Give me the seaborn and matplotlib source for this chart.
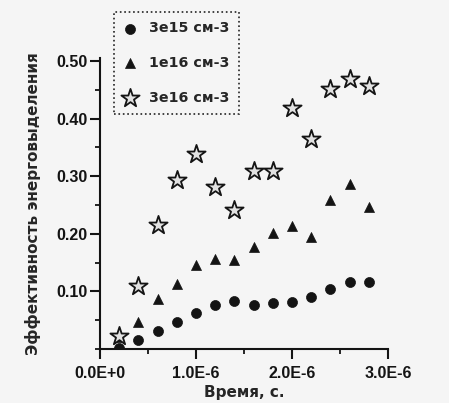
import matplotlib
matplotlib.use("Agg")
import matplotlib.pyplot as plt
import seaborn as sns
import pandas as pd
import numpy as np
from matplotlib.ticker import FixedLocator, MultipleLocator

# ---- data ----
time_us = [0.2, 0.4, 0.6, 0.8, 1.0, 1.2, 1.4, 1.6, 1.8, 2.0, 2.2, 2.4, 2.6, 2.8]
eff_3e15 = [0.002, 0.016, 0.032, 0.046, 0.062, 0.077, 0.083, 0.076, 0.080, 0.081, 0.091, 0.105, 0.116, 0.117]
eff_1e16 = [0.020, 0.047, 0.086, 0.112, 0.146, 0.156, 0.154, 0.177, 0.201, 0.213, 0.194, 0.258, 0.286, 0.247]
eff_3e16 = [0.023, 0.109, 0.215, 0.294, 0.339, 0.281, 0.241, 0.309, 0.309, 0.419, 0.364, 0.451, 0.468, 0.457]
series_labels = ["3e15 см-3", "1e16 см-3", "3e16 см-3"]
x_ticks = [0.0, 1e-6, 2e-6, 3e-6]
x_tick_labels = ["0.0E+0", "1.0E-6", "2.0E-6", "3.0E-6"]
y_ticks = [0.10, 0.20, 0.30, 0.40, 0.50]
y_tick_labels = ["0.10", "0.20", "0.30", "0.40", "0.50"]
x_label = "Время, с."
y_label = "Эффективность энерговыделения"

t = np.array(time_us) * 1e-6
df = pd.DataFrame({
    "t": np.concatenate([t, t, t]),
    "eff": eff_3e15 + eff_1e16 + eff_3e16,
    "series": [series_labels[0]] * len(t) + [series_labels[1]] * len(t) + [series_labels[2]] * len(t),
})

sns.set_style("ticks")
plt.rcParams["font.family"] = ["Liberation Sans", "DejaVu Sans"]
plt.rcParams["font.weight"] = "bold"

ink = "#141414"
bg = "#f5f5f5"
fig = plt.figure(figsize=(4.49, 4.03), dpi=100, facecolor=bg)
ax = fig.add_axes([0.2227, 0.134, 0.6414, 0.722])
ax.set_facecolor(bg)

styles = {
    series_labels[0]: dict(marker="o", s=52, color=ink, edgecolor=ink, linewidth=0.5),
    series_labels[1]: dict(marker="^", s=52, color=ink, edgecolor=ink, linewidth=0.5),
    series_labels[2]: dict(marker="*", s=190, color="#e2e2e2", edgecolor=ink, linewidth=1.3),
}
for name in series_labels:
    sub = df[df["series"] == name]
    sns.scatterplot(data=sub, x="t", y="eff", ax=ax, label=name, zorder=3, **styles[name])

ax.set_xlim(0, 3e-6)
ax.set_ylim(0, 0.505)
ax.xaxis.set_major_locator(FixedLocator(x_ticks))
ax.set_xticklabels(x_tick_labels)
ax.xaxis.set_minor_locator(MultipleLocator(0.5e-6))
ax.yaxis.set_major_locator(FixedLocator(y_ticks))
ax.set_yticklabels(y_tick_labels)
ax.yaxis.set_minor_locator(MultipleLocator(0.05))

for side in ["top", "right"]:
    ax.spines[side].set_visible(False)
for side in ["left", "bottom"]:
    ax.spines[side].set_linewidth(1.5)
    ax.spines[side].set_color(ink)

ax.tick_params(axis="both", which="major", direction="out", length=7.5, width=1.5,
               labelsize=11.5, colors=ink)
ax.tick_params(axis="both", which="minor", direction="out", length=3.8, width=1.3, colors=ink)
ax.tick_params(axis="x", which="major", pad=5.0)
ax.tick_params(axis="y", which="major", pad=1.5)
for lab in ax.get_xticklabels() + ax.get_yticklabels():
    lab.set_fontweight("bold")
    lab.set_fontfamily(["Liberation Sans", "DejaVu Sans"])

ax.set_xlabel(x_label, fontsize=11, fontweight="bold", labelpad=2.5,
              fontfamily=["DejaVu Sans"])
ax.set_ylabel(y_label, fontsize=11, fontweight="bold", labelpad=11,
              fontfamily=["DejaVu Sans"])

leg = ax.legend(loc="upper left", bbox_to_anchor=(0.0486, 1.158), borderaxespad=0,
                frameon=True, fancybox=False, labelspacing=1.45,
                handletextpad=0.8, handlelength=1.0, borderpad=0.65,
                prop={"family": "DejaVu Sans", "weight": "bold", "size": 10.3})
frame = leg.get_frame()
frame.set_linestyle(":")
frame.set_edgecolor("#222222")
frame.set_linewidth(1.2)
frame.set_facecolor(bg)
frame.set_alpha(None)

fig.savefig("out.png", dpi=100, facecolor=bg)
